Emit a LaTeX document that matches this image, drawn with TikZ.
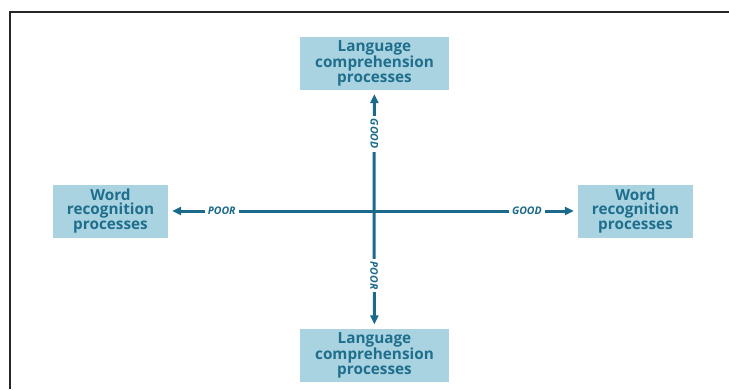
\documentclass[tikz,border=0pt]{standalone}
\usepackage{fontspec}
\setmainfont{Open Sans}
\usepackage{xcolor}
\usepackage{tikz}
\usetikzlibrary{arrows.meta,positioning}

\definecolor{axisblue}{HTML}{1B6A8C}
\definecolor{boxfill}{HTML}{A9D3E1}
\definecolor{boxtext}{HTML}{1F6E8C}

\begin{document}
\begin{tikzpicture}[x=1pt,y=-1pt,>={Triangle[length=9pt,width=8pt]},
  procbox/.style={fill=boxfill,text=boxtext,font=\fontsize{15.3}{14.6}\selectfont\bfseries,
    align=center,minimum height=53pt,inner sep=1pt},
  axis/.style={draw=axisblue,line width=3pt,->,shorten >=4pt},
  tag/.style={fill=white,text=axisblue,font=\fontsize{10.5}{11}\selectfont\bfseries\itshape,inner sep=3pt}]
 \useasboundingbox (0,0) rectangle (729,389);
 % frame
 \draw[line width=1.6pt,black!85] (10,389) -- (10,12) -- (729,12);

 \coordinate (mid) at (374,211);
 \node[procbox,minimum width=149pt] (langgood) at (374.5,63.5) {Language\\comprehension\\processes};
 \node[procbox,minimum width=149pt] (langpoor) at (374.5,355) {Language\\comprehension\\processes};
 \node[procbox,minimum width=115pt] (wordpoor) at (110.5,211) {Word\\recognition\\processes};
 \node[procbox,minimum width=115pt] (wordgood) at (635.5,211) {Word\\recognition\\processes};

 \draw[axis] (mid) -- node[tag,pos=0.74] {POOR} (wordpoor);
 \draw[axis] (mid) -- node[tag,pos=0.75] {GOOD} (wordgood);
 \draw[axis] (mid) -- node[tag,pos=0.64,rotate=-90] {GOOD} (langgood);
 \draw[axis] (mid) -- node[tag,pos=0.55,rotate=-90] {POOR} (langpoor);
\end{tikzpicture}
\end{document}
